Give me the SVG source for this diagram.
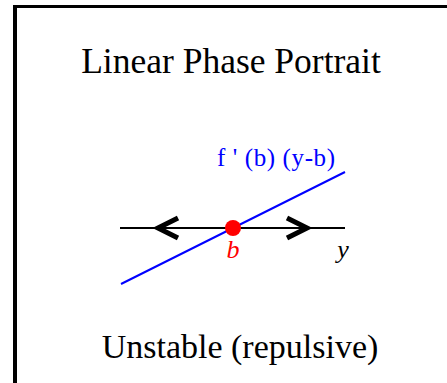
<svg xmlns="http://www.w3.org/2000/svg" width="447" height="383" viewBox="0 0 447 383">
<style>
.t{font-family:"Liberation Serif","Times New Roman",serif;}
.axis{stroke:#000;stroke-width:2;fill:none}
.chev{stroke:#000;stroke-width:5;fill:none;stroke-linecap:butt;stroke-linejoin:miter}
</style>
<rect width="447" height="383" fill="#fff"/>
<g id="frame">
<line x1="15" y1="6.5" x2="447" y2="6.5" stroke="#000" stroke-width="3"/>
<line x1="15" y1="5" x2="15" y2="383" stroke="#000" stroke-width="4"/>
</g>
<g id="title"><text class="t" x="231" y="73" font-size="35.5" text-anchor="middle">Linear Phase Portrait</text></g>
<g id="connectors">
<line class="axis" x1="120" y1="228" x2="345" y2="228"/>
<polyline class="chev" points="178,218 158,228 178,238"/>
<polyline class="chev" points="287,218 307,228 287,238"/>
<line x1="121" y1="284" x2="345" y2="172" stroke="#0000ff" stroke-width="2"/>
</g>
<g id="equilibrium">
<circle cx="233" cy="228" r="8" fill="#ff0000"/>
<text class="t" x="233" y="258" font-size="26" font-style="italic" fill="#ff0000" text-anchor="middle">b</text>
</g>
<g id="ylabel"><text class="t" x="343" y="258" font-size="26" font-style="italic" text-anchor="middle">y</text></g>
<g id="flabel"><text class="t" x="217" y="166" font-size="25" fill="#0000ff" textLength="118" lengthAdjust="spacing">f ' (b) (y-b)</text></g>
<g id="caption"><text class="t" x="240" y="358" font-size="34" text-anchor="middle">Unstable (repulsive)</text></g>
</svg>
